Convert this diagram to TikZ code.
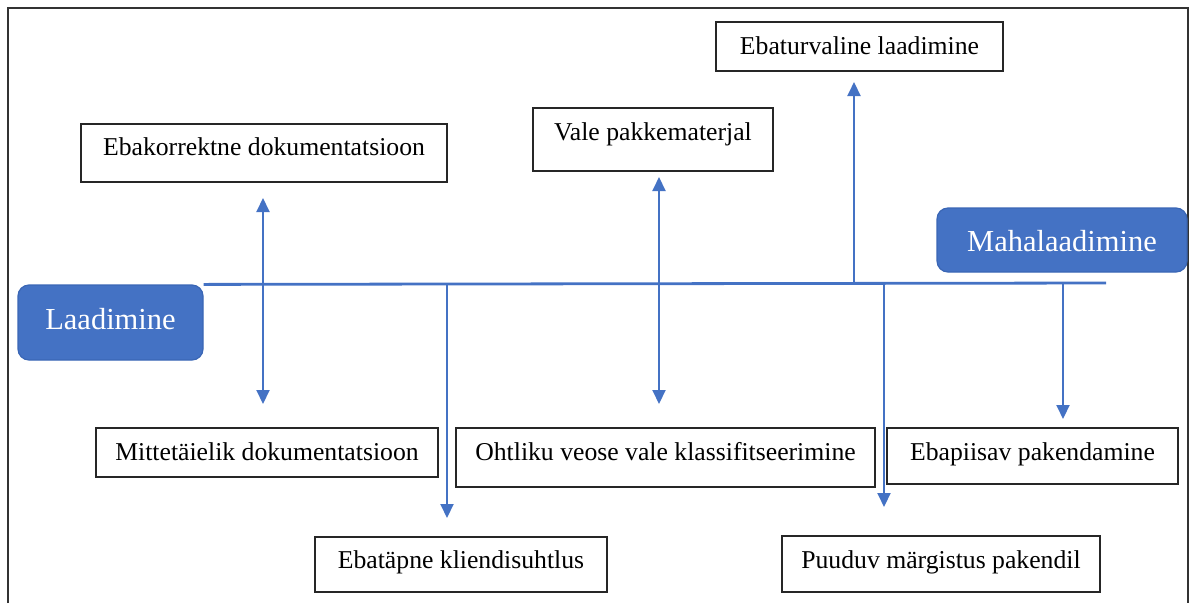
\documentclass[tikz,border=0pt]{standalone}
\usepackage{fontspec}
\setmainfont{Liberation Serif}
\usetikzlibrary{arrows.meta}
\definecolor{office}{HTML}{4472C4}
\definecolor{officeedge}{HTML}{3A66B5}
\begin{document}
\begin{tikzpicture}[x=1pt,y=-1pt,
  cause/.style={draw=black!85, line width=1.8pt, fill=white, inner sep=0pt,
    font=\fontsize{25.7}{30}\selectfont, text height=17pt, text depth=5.5pt},
  stage/.style={draw=officeedge, line width=1.2pt, fill=office, rounded corners=11pt,
    text=white, inner sep=0pt, font=\fontsize{30.5}{36}\selectfont},
  link/.style={draw=office, line width=2pt},
  head/.style={-{Triangle[width=13pt,length=14pt]}},
  twohead/.style={{Triangle[width=13pt,length=14pt]}-{Triangle[width=13pt,length=14pt]}}]
\useasboundingbox (0,0) rectangle (1190,603);

% frame
\draw[black!80, line width=2pt] (8,603) -- (8,8) -- (1188,8) -- (1188,603);

% process stages
\node[stage, minimum width=185pt, minimum height=75pt, text height=21pt, text depth=8pt]
  (lad) at (110.5,322.5) {Laadimine};
\node[stage, minimum width=250pt, minimum height=64pt, text height=25pt, text depth=1.6pt]
  (mah) at (1062,240) {Mahalaadimine};

% causes above the spine
\node[cause, minimum width=366pt, minimum height=58pt, text depth=13pt]
  (c1) at (264,153) {Ebakorrektne dokumentatsioon};
\node[cause, minimum width=240pt, minimum height=63pt, text depth=16pt]
  (c2) at (653,139.5) {Vale pakkematerjal};
\node[cause, minimum width=287pt, minimum height=49pt, text depth=2pt]
  (c3) at (859.5,46.5) {Ebaturvaline laadimine};

% causes below the spine
\node[cause, minimum width=342pt, minimum height=49pt, text depth=2pt]
  (c4) at (267,452.5) {Mittetäielik dokumentatsioon};
\node[cause, minimum width=419pt, minimum height=59pt, text depth=12pt]
  (c5) at (665.5,457.5) {Ohtliku veose vale klassifitseerimine};
\node[cause, minimum width=291pt, minimum height=56pt, text depth=9pt]
  (c6) at (1032.5,456) {Ebapiisav pakendamine};
\node[cause, minimum width=292pt, minimum height=55pt, text depth=9pt]
  (c7) at (461,564.5) {Ebatäpne kliendisuhtlus};
\node[cause, minimum width=318pt, minimum height=56pt, text depth=9pt]
  (c8) at (941,564) {Puuduv märgistus pakendil};

% spine
\coordinate (spineR) at (1106,283);
\draw[link, line width=2.8pt] (lad.north east) -- (spineR);

% arrow end points
\coordinate (a1t) at (263,198);  \coordinate (a1b) at (263,404);
\coordinate (a2t) at (659,177);  \coordinate (a2b) at (659,404);
\coordinate (s3) at (447,285);   \coordinate (a3) at (447,518);
\coordinate (s4) at (854,284);   \coordinate (a4) at (854,82);
\coordinate (s5) at (884,283.5); \coordinate (a5) at (884,507);
\coordinate (s6) at (1063,283);  \coordinate (a6) at (1063,419);

% arrows
\draw[link, twohead] (a1t) -- (a1b);
\draw[link, twohead] (a2t) -- (a2b);
\draw[link, head] (s3) -- (a3);
\draw[link, head] (s4) -- (a4);
\draw[link, head] (s5) -- (a5);
\draw[link, head] (s6) -- (a6);
\end{tikzpicture}
\end{document}
